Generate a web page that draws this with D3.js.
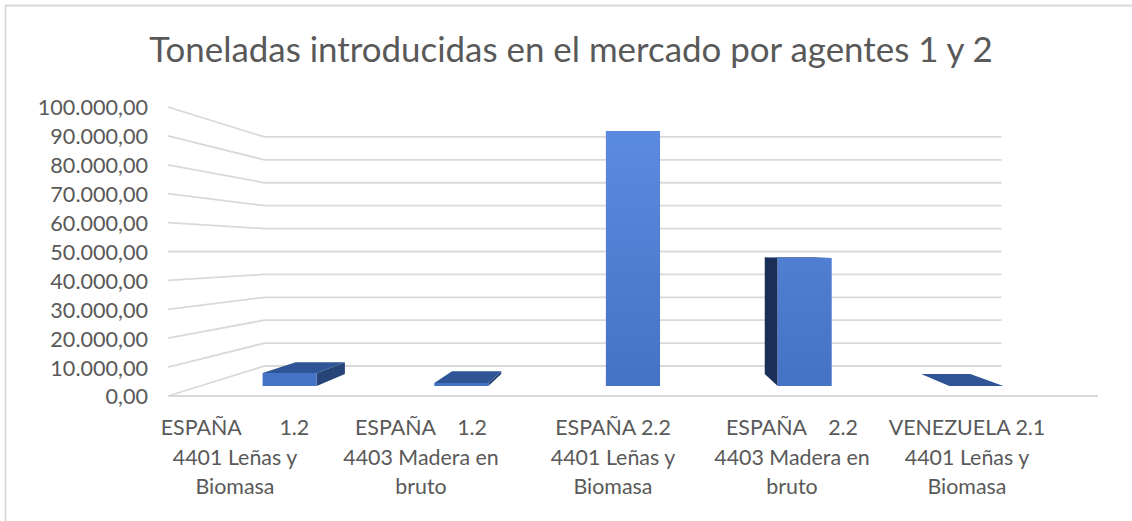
<!DOCTYPE html>
<html>

<head>
    <meta charset="utf-8">
    <style>
        html,
        body {
            margin: 0;
            background-color: #ffffff;
            overflow: hidden;
        }

        svg {
            display: block;
        }

        text {
            font-family: Lato, "Open Sans", sans-serif;
            fill: #595959;
            white-space: pre;
        }

        .grid {
            fill: none;
            stroke: #d9d9d9;
            stroke-width: 1.8;
        }
    </style>
</head>

<body>
    <div id="chart"></div>
    <script src="https://d3js.org/d3.v7.min.js"></script>
    <script>
        // Data
        var title = "Toneladas introducidas en el mercado por agentes 1 y 2";
        var categories = ["ES12-4401", "ES12-4403", "ES22-4401", "ES22-4403", "VE21-4401"];
        var labelLines = [
            ["ESPAÑA       1.2", "4401 Leñas y", "Biomasa"],
            ["ESPAÑA    1.2", "4403 Madera en", "bruto"],
            ["ESPAÑA 2.2", "4401 Leñas y", "Biomasa"],
            ["ESPAÑA    2.2", "4403 Madera en", "bruto"],
            ["VENEZUELA 2.1", "4401 Leñas y", "Biomasa"]
        ];
        var values = [4800, 1100, 94800, 47600, 0];
        var ticks = [0, 10000, 20000, 30000, 40000, 50000, 60000, 70000, 80000, 90000, 100000];

        var width = 1132,
            height = 521;

        var svg = d3.select("#chart").append("svg")
            .attr("width", width)
            .attr("height", height);

        // chart frame, only left and top edges are visible
        svg.append("path")
            .attr("class", "grid")
            .attr("d", "M5.5,521V5.5H1132");

        // scales of the front plane of the 3D box
        var x = d3.scaleBand()
            .domain(categories)
            .range([172, 1094])
            .paddingInner(0.685)
            .paddingOuter(0.3425);

        var y = d3.scaleLinear()
            .domain([0, 100000])
            .range([396, 107]);

        // perspective: everything shrinks towards this point with depth
        var vanishX = 633,
            vanishY = 251.4;
        var backWall = 0.7925,
            barFront = 0.931,
            barBack = 0.848;

        function project(px, py, s) {
            return [vanishX + (px - vanishX) * s, vanishY + (py - vanishY) * s];
        }

        var line = d3.line();

        // gradient of the bar faces
        var grad = svg.append("defs").append("linearGradient")
            .attr("id", "front")
            .attr("gradientUnits", "userSpaceOnUse")
            .attr("x1", 0).attr("x2", 0)
            .attr("y1", project(0, y(94800), barFront)[1])
            .attr("y2", project(0, y(0), barFront)[1]);
        grad.append("stop").attr("offset", 0).attr("stop-color", "#5b8be0");
        grad.append("stop").attr("offset", 1).attr("stop-color", "#4472c4");

        // gridlines: side wall then back wall
        svg.selectAll(".gridline")
            .data(ticks)
            .enter().append("path")
            .attr("class", "grid gridline")
            .attr("d", function (d) {
                var a = project(x.range()[0] - 4, y(d), 1),
                    b = project(x.range()[0] - 4, y(d), backWall),
                    c = project(x.range()[1] + 4, y(d), backWall);
                return line([a, b, c]);
            });

        // floor edge
        svg.append("path")
            .attr("class", "grid")
            .attr("d", line([[x.range()[0] - 4, y(0)], [x.range()[1] + 4, y(0)]]));

        // Y axis
        var numFmt = d3.formatLocale({
            decimal: ",",
            thousands: ".",
            grouping: [3],
            currency: ["", ""]
        }).format(",.2f");

        var yAxis = d3.axisLeft(y)
            .tickValues(ticks)
            .tickFormat(numFmt)
            .tickSize(0)
            .tickPadding(20);

        var yG = svg.append("g")
            .attr("transform", "translate(168,1)")
            .call(yAxis);
        yG.select(".domain").remove();
        yG.selectAll("text")
            .style("font-size", "21.6px");

        // Bars
        function face(d, i, corners) {
            return line(corners.map(function (c) { return project(c[0], c[1], c[2]); })) + "Z";
        }

        var bars = svg.selectAll(".bar")
            .data(values)
            .enter().append("g")
            .attr("class", "bar");

        // side face, the one turned to the viewer
        bars.append("path")
            .attr("fill", function (d, i) {
                return x(categories[i]) + x.bandwidth() / 2 < vanishX ? "#264478" : "#1a2f57";
            })
            .attr("d", function (d, i) {
                var cx = x(categories[i]);
                var edge = cx + x.bandwidth() / 2 < vanishX ? cx + x.bandwidth() : cx;
                return face(d, i, [
                    [edge, y(d), barFront], [edge, y(d), barBack],
                    [edge, y(0), barBack], [edge, y(0), barFront]
                ]);
            });

        // top face
        bars.append("path")
            .attr("fill", "#2f5597")
            .attr("d", function (d, i) {
                var l = x(categories[i]),
                    r = l + x.bandwidth();
                return face(d, i, [
                    [l, y(d), barFront], [l, y(d), barBack],
                    [r, y(d), barBack], [r, y(d), barFront]
                ]);
            });

        // front face
        bars.append("path")
            .attr("fill", "url(#front)")
            .attr("d", function (d, i) {
                var l = x(categories[i]),
                    r = l + x.bandwidth();
                return face(d, i, [
                    [l, y(d), barFront], [r, y(d), barFront],
                    [r, y(0), barFront], [l, y(0), barFront]
                ]);
            });

        // Category labels, three lines each
        var labelX = d3.scaleOrdinal(categories, [235, 421, 613, 792, 967]);

        svg.selectAll(".cat")
            .data(categories)
            .enter().append("text")
            .attr("class", "cat")
            .attr("text-anchor", "middle")
            .style("font-size", "21.4px")
            .each(function (d, i) {
                d3.select(this).selectAll("tspan")
                    .data(labelLines[i])
                    .enter().append("tspan")
                    .attr("x", labelX(d))
                    .attr("y", function (t, j) { return 435 + j * 29.5; })
                    .text(function (t) { return t; });
            });

        // Title
        svg.append("text")
            .attr("x", 571)
            .attr("y", 62)
            .attr("text-anchor", "middle")
            .style("font-size", "34.9px")
            .text(title);
    </script>
</body>

</html>
